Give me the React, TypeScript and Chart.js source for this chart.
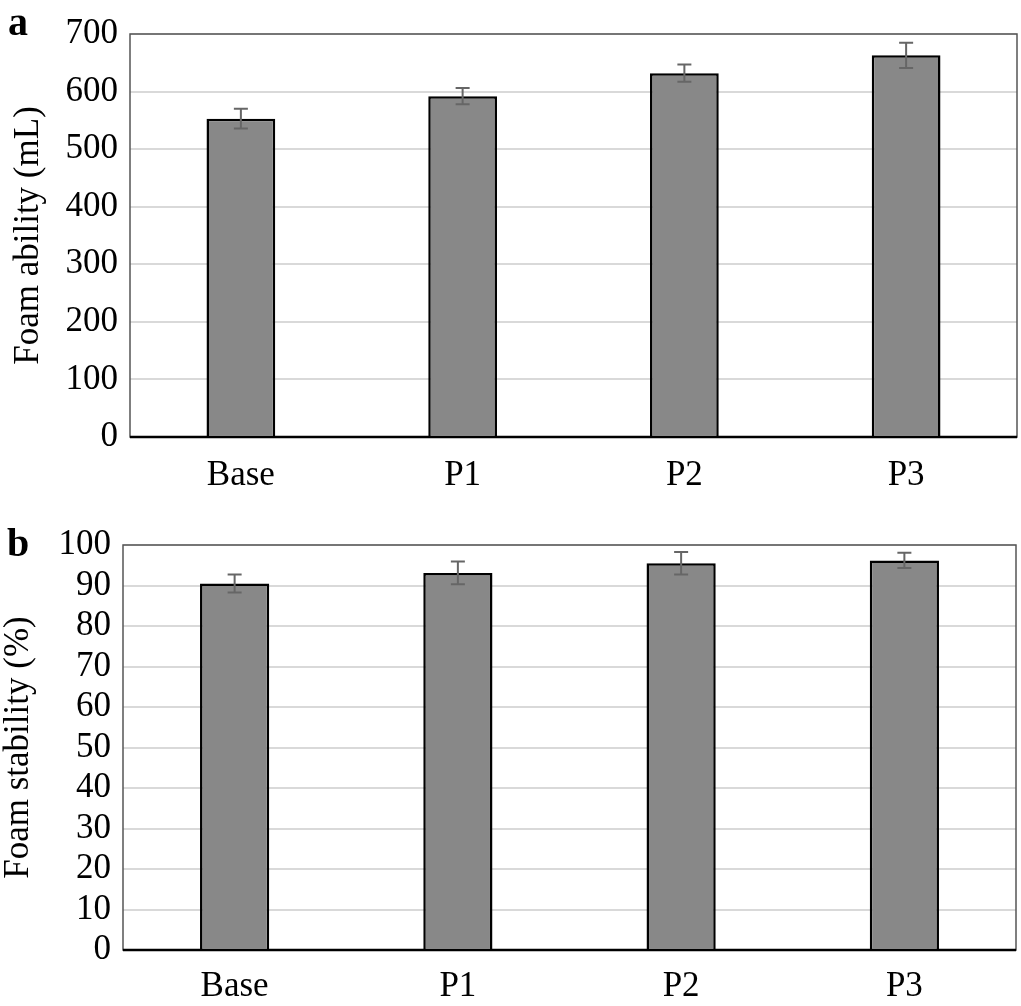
import { useEffect, useRef } from "react"
import { Chart, registerables } from "chart.js"

Chart.register(...registerables)

const categories = ["Base", "P1", "P2", "P3"]
const foamAbility = [553, 592, 632, 663]
const foamAbilityErr = [17, 14, 15, 22]
const foamStability = [90.5, 93.1, 95.5, 96.2]
const foamStabilityErr = [2.2, 2.8, 2.8, 1.9]

const FONT = "'Liberation Serif', 'Times New Roman', serif"

// draws a grey box round the plot area
const boxPlugin = {
  id: "plotBox",
  beforeDatasetsDraw: (chart: any) => {
    const { ctx, chartArea } = chart
    ctx.save()
    ctx.strokeStyle = "#555555"
    ctx.lineWidth = 1.5
    ctx.strokeRect(chartArea.left, chartArea.top, chartArea.right - chartArea.left, chartArea.bottom - chartArea.top)
    // black x axis line on top of the box
    ctx.strokeStyle = "#000000"
    ctx.lineWidth = 2.5
    ctx.beginPath()
    ctx.moveTo(chartArea.left, chartArea.bottom)
    ctx.lineTo(chartArea.right, chartArea.bottom)
    ctx.stroke()
    ctx.restore()
  },
}

// error bars, read from the dataset's "errors" array
const errorBarPlugin = {
  id: "errorBars",
  afterDatasetsDraw: (chart: any) => {
    const { ctx } = chart
    const yScale = chart.scales.y
    chart.data.datasets.forEach((ds: any, di: number) => {
      const meta = chart.getDatasetMeta(di)
      ctx.save()
      ctx.strokeStyle = "#666666"
      ctx.lineWidth = 2
      meta.data.forEach((bar: any, i: number) => {
        const v = ds.data[i]
        const e = ds.errors[i]
        const x = bar.x
        const yTop = yScale.getPixelForValue(v + e)
        const yBot = yScale.getPixelForValue(v - e)
        ctx.beginPath()
        ctx.moveTo(x, yTop)
        ctx.lineTo(x, yBot)
        ctx.moveTo(x - 7, yTop)
        ctx.lineTo(x + 7, yTop)
        ctx.moveTo(x - 7, yBot)
        ctx.lineTo(x + 7, yBot)
        ctx.stroke()
      })
      ctx.restore()
    })
  },
}

type PanelProps = {
  values: number[]
  errors: number[]
  yMax: number
  yStep: number
  yTitle: string
  width: number
  height: number
  axisWidth: number
  axisHeight: number
  padTop: number
  padRight: number
  titlePad: number
  tickPad: number
}

function BarPanel(p: PanelProps) {
  const chartRef = useRef<HTMLCanvasElement>(null)
  const chartInstance = useRef<Chart | null>(null)

  useEffect(() => {
    if (!chartRef.current) return
    const ctx = chartRef.current.getContext("2d")
    if (!ctx) return
    if (chartInstance.current) chartInstance.current.destroy()

    chartInstance.current = new Chart(ctx, {
      type: "bar",
      data: {
        labels: categories,
        datasets: [
          {
            data: p.values,
            errors: p.errors,
            backgroundColor: "#888888",
            borderColor: "#000000",
            borderWidth: 2.5,
            barPercentage: 0.31,
            categoryPercentage: 1,
          } as any,
        ],
      },
      options: {
        responsive: false,
        animation: false,
        devicePixelRatio: 1,
        layout: { padding: { top: p.padTop, right: p.padRight, left: 0, bottom: 0 } },
        plugins: { legend: { display: false }, tooltip: { enabled: false } },
        scales: {
          x: {
            grid: { display: false, drawTicks: false },
            border: { display: false },
            ticks: { color: "#000", font: { family: FONT, size: 35 }, padding: p.tickPad },
            afterFit: (scale: any) => {
              scale.height = p.axisHeight
            },
          },
          y: {
            min: 0,
            max: p.yMax,
            ticks: {
              stepSize: p.yStep,
              autoSkip: false,
              color: "#000",
              font: { family: FONT, size: 35, lineHeight: 1 },
              padding: 12,
            },
            grid: { color: "#d9d9d9", lineWidth: 2, drawTicks: false },
            border: { display: false },
            title: {
              display: true,
              text: p.yTitle,
              color: "#000",
              font: { family: FONT, size: 35, lineHeight: 1.1 },
              padding: { top: p.titlePad, bottom: 0 },
            },
            afterFit: (scale: any) => {
              scale.width = p.axisWidth
            },
          },
        },
      } as any,
      plugins: [boxPlugin, errorBarPlugin],
    })

    return () => {
      if (chartInstance.current) {
        chartInstance.current.destroy()
        chartInstance.current = null
      }
    }
  }, [])

  return <canvas ref={chartRef} width={p.width} height={p.height} style={{ display: "block" }} />
}

export default function App() {
  const letter = {
    position: "absolute" as const,
    fontFamily: FONT,
    fontWeight: "bold" as const,
    fontSize: 40,
    lineHeight: 1,
  }
  return (
    <div style={{ position: "absolute", left: 0, top: 0, width: 1021, height: 1006, background: "#fff" }}>
      <div style={{ position: "absolute", left: 0, top: 0 }}>
        <BarPanel
          values={foamAbility}
          errors={foamAbilityErr}
          yMax={700}
          yStep={100}
          yTitle="Foam ability (mL)"
          width={1021}
          height={500}
          axisWidth={130}
          axisHeight={63}
          padTop={34}
          padRight={4}
          titlePad={10}
          tickPad={18}
        />
      </div>
      <div style={{ position: "absolute", left: 0, top: 510 }}>
        <BarPanel
          values={foamStability}
          errors={foamStabilityErr}
          yMax={100}
          yStep={10}
          yTitle="Foam stability (%)"
          width={1021}
          height={496}
          axisWidth={123}
          axisHeight={56}
          padTop={35}
          padRight={5}
          titlePad={0}
          tickPad={16}
        />
      </div>
      <div style={{ ...letter, left: 8, top: 2 }}>a</div>
      <div style={{ ...letter, left: 7, top: 523 }}>b</div>
    </div>
  )
}
